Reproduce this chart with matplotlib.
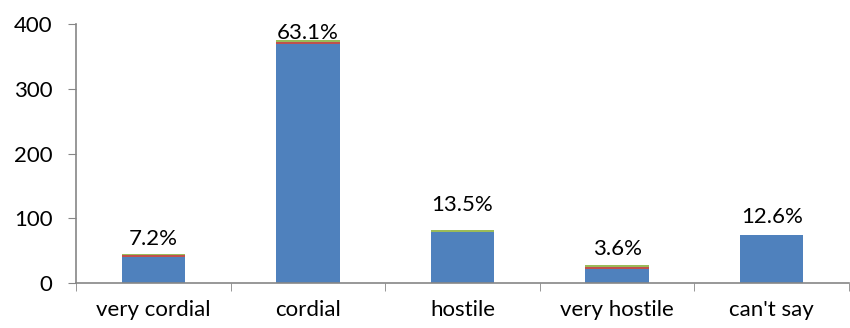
import matplotlib.pyplot as plt
import numpy as np

# categories and stacked series
categories = ['very cordial', 'cordial', 'hostile', 'very hostile', "can't say"]
series_blue = [40, 369, 79, 22, 74]
series_red = [3, 3.5, 0.5, 3, 0]
series_green = [1.5, 2.5, 2, 3.5, 0]
pct_labels = ['7.2%', '63.1%', '13.5%', '3.6%', '12.6%']
label_gap = [5, -3, 15, 6, 8]  # pixels above the stack

plt.rcParams['font.family'] = ['Lato', 'DejaVu Sans']

fig = plt.figure(figsize=(8.5, 3.28), dpi=100)
ax = fig.add_axes([76 / 850, 45 / 328, 773 / 850, 259 / 328])

x = np.arange(len(categories))
w = 0.41
blue = np.array(series_blue)
red = np.array(series_red)
green = np.array(series_green)

ax.bar(x, blue, w, color='#4F81BD')
ax.bar(x, red, w, bottom=blue, color='#C0504D')
ax.bar(x, green, w, bottom=blue + red, color='#9BBB59')

tops = blue + red + green
for i in range(len(categories)):
    ax.annotate(pct_labels[i], (x[i], tops[i]), xytext=(0, label_gap[i] * 0.72),
                textcoords='offset points', ha='center', va='bottom', fontsize=16)

ax.set_xlim(-0.5, len(categories) - 0.5)
ax.set_ylim(0, 400)
ax.set_yticks([0, 100, 200, 300, 400])
ax.set_xticks(x)
ax.set_xticklabels(categories)
ax.set_xticks(np.arange(-0.5, len(categories)), minor=True)

for s in ['top', 'right']:
    ax.spines[s].set_visible(False)
for s in ['left', 'bottom']:
    ax.spines[s].set_color('#868686')
    ax.spines[s].set_linewidth(1.2)

ax.tick_params(axis='y', length=6, color='#868686', labelsize=16, pad=11)
ax.tick_params(axis='x', which='major', length=0, labelsize=16, pad=12)
ax.tick_params(axis='x', which='minor', length=6, color='#868686')

fig.savefig('out.png', dpi=100)
